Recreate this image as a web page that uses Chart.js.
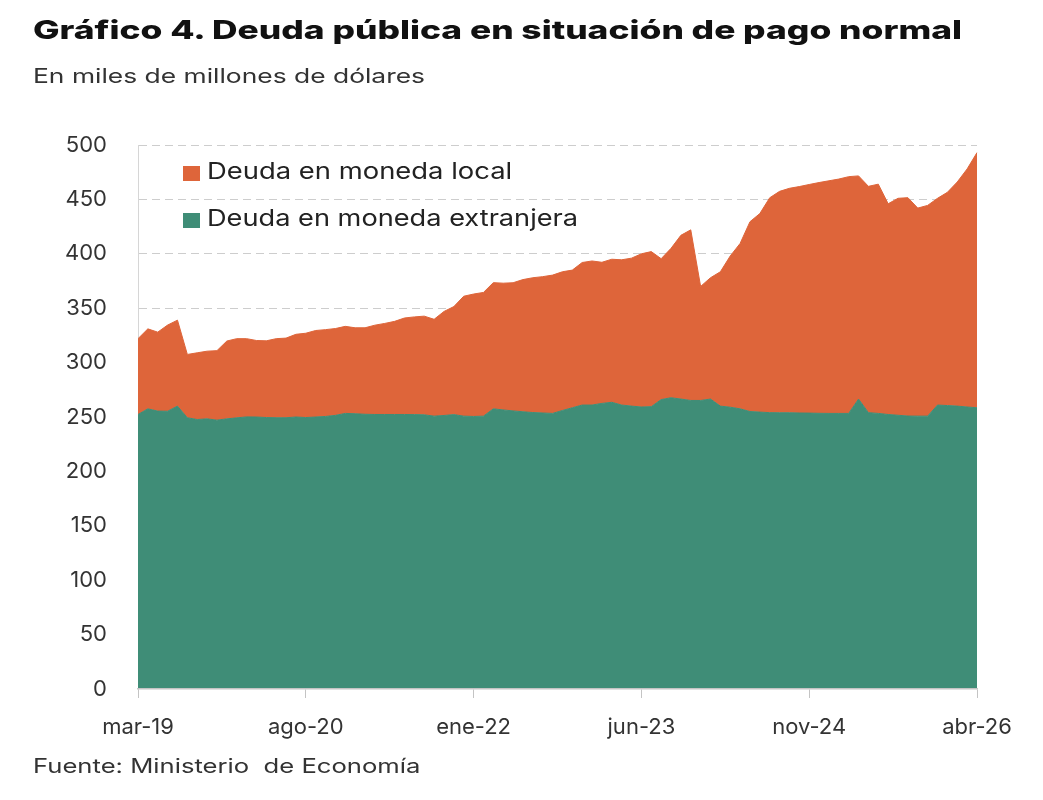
<!DOCTYPE html>
<html>
<head>
<meta charset="utf-8">
<script src="https://cdn.jsdelivr.net/npm/chart.js@4.4.1/dist/chart.umd.min.js"></script>
<style>
  html, body { margin:0; padding:0; background:#fff; }
  body { width:1043px; height:800px; position:relative; overflow:hidden; font-family:'Inter', 'Noto Sans', sans-serif; }
  .t { position:absolute; white-space:pre; line-height:1; transform-origin:0 0; }
  #title { left:33px; top:16.5px; font-size:26px; font-weight:800; color:#111; }
  #subtitle { left:33px; top:66px; font-size:20px; color:#333; }
  #source { left:33px; top:756px; font-size:20px; color:#333; }
  .lg { position:absolute; left:183px; }
  .lg .sw { position:absolute; left:0; width:17px; height:15px; }
  .lg .tx { position:absolute; left:24px; white-space:pre; line-height:1; font-size:23px; color:#222; transform-origin:0 0; }
  #c { position:absolute; left:0; top:0; }
</style>
</head>
<body>
<canvas id="c" width="1043" height="800"></canvas>
<div id="title" class="t" data-w="929">Gráfico 4. Deuda pública en situación de pago normal</div>
<div id="subtitle" class="t" data-w="392">En miles de millones de dólares</div>
<div id="source" class="t" data-w="387">Fuente: Ministerio  de Economía</div>
<div id="legend"></div>
<script>
// ---- Data ----
const MONTHS = ['ene','feb','mar','abr','may','jun','jul','ago','sep','oct','nov','dic'];
const START_MONTH = 2;   // mar
const START_YEAR = 19;   // 2019
const N_POINTS = 86;     // mar-19 .. abr-26

const labels = [];
for (let i = 0; i < N_POINTS; i++) {
  const m = (START_MONTH + i) % 12;
  const y = START_YEAR + Math.floor((START_MONTH + i) / 12);
  labels.push(MONTHS[m] + '-' + y);
}

const foreignDebt = [252.3,257.5,255.4,255.3,260,249.3,247.7,248.3,247.1,248.3,249.2,250.1,250,249.5,249.3,249.3,250,249.5,250,250.5,251.5,253.3,253,252.5,252.3,252.3,252.3,252.3,252.2,252,250.8,251.4,252.2,250.8,250.5,250.8,257.5,256.5,255.6,254.8,254.1,253.7,253.3,256,258.5,261,261,262.5,263.5,261,260,259.2,259.5,266,267.7,266.5,265.2,265.2,266.5,260,259,257.5,255,254.5,254,253.9,253.9,253.7,253.6,253.4,253.3,253.3,253.3,266.5,254,253.3,252.3,251.6,250.9,250.8,250.8,261,260.5,260,259.2,258.5];

const localDebt = [69.7,73.5,72.6,79.2,79,58.2,61.3,62.2,63.9,71.5,72.8,71.9,70.3,70.5,72.7,73.2,76,77.5,79.5,79.8,79.8,80,79,79.5,82.1,83.7,85.6,88.7,89.8,90.7,89,95.6,99.3,110.2,112.5,113.7,116,116.5,117.8,121.5,123.9,125.3,127.1,127.5,126.5,131,132.4,129.7,131.5,133.5,136,140.8,142.5,129.5,137.3,150.5,156.8,104.8,111.5,123.5,139,152,174.5,182.5,197.5,203.5,206.3,208.1,210.1,212.1,213.8,215.4,217.6,205.1,208,210.7,193.7,199.4,200.7,191.2,193.7,190,196,206,218.8,234.5];

const seriesNames = ['Deuda en moneda extranjera', 'Deuda en moneda local'];
const yTicks = [0,50,100,150,200,250,300,350,400,450,500];
const X_TICK_EVERY = 17;

// ---- Styles ----
const GREEN = '#3F8D77';
const ORANGE = '#DE653A';
const FONT = "'Inter', 'Noto Sans', sans-serif";

const chart = new Chart(document.getElementById('c'), {
  type: 'line',
  data: {
    labels: labels,
    datasets: [
      { label: seriesNames[0], data: foreignDebt, backgroundColor: GREEN, borderColor: GREEN,
        borderWidth: 1, fill: 'origin', pointRadius: 0, tension: 0 },
      { label: seriesNames[1], data: localDebt, backgroundColor: ORANGE, borderColor: ORANGE,
        borderWidth: 1, fill: '-1', pointRadius: 0, tension: 0 }
    ]
  },
  options: {
    responsive: false,
    animation: false,
    layout: { padding: { left: 0, top: 145, right: 66, bottom: 61 } },
    plugins: { legend: { display: false }, tooltip: { enabled: false } },
    scales: {
      x: {
        offset: false,
        afterFit: s => { s.height = 50; },
        grid: {
          display: true, drawOnChartArea: false, drawTicks: true, tickLength: 9,
          tickColor: c => (c.index % X_TICK_EVERY === 0 ? '#c4c4c4' : 'rgba(0,0,0,0)'),
          color: 'rgba(0,0,0,0)'
        },
        border: { display: true, color: '#c4c4c4', width: 1.5, z: 1 },
        ticks: {
          autoSkip: false, maxRotation: 0, minRotation: 0, padding: 16,
          color: '#333', font: { family: FONT, size: 22 },
          callback: (v, i) => (i % X_TICK_EVERY === 0 ? labels[i] : '')
        }
      },
      y: {
        stacked: true,
        min: yTicks[0], max: yTicks[yTicks.length - 1],
        afterFit: s => { s.width = 138; },
        afterBuildTicks: s => { s.ticks = yTicks.map(v => ({ value: v })); },
        grid: { color: c => (c.tick && c.tick.value === 0 ? 'rgba(0,0,0,0)' : '#cdcdcd'), lineWidth: 1, drawTicks: false },
        border: { display: true, color: '#d6d6d6', width: 1, dash: [8, 5] },
        ticks: { padding: 31, color: '#333', font: { family: FONT, size: 22 } }
      }
    }
  }
});

// ---- HTML legend (inside plot, top-left), built from dataset definitions ----
const legendBox = document.getElementById('legend');
const order = [1, 0];
order.forEach((di, k) => {
  const ds = chart.data.datasets[di];
  const item = document.createElement('div');
  item.className = 'lg';
  item.style.top = (166 + k * 46.5) + 'px';
  const sw = document.createElement('div');
  sw.className = 'sw';
  sw.style.background = ds.backgroundColor;
  const tx = document.createElement('div');
  tx.className = 'tx';
  tx.style.top = '-6px';
  tx.textContent = ds.label;
  tx.setAttribute('data-w', di === 1 ? '305' : '371');
  item.appendChild(sw); item.appendChild(tx);
  legendBox.appendChild(item);
});

// ---- Fit text widths to the reference (offsetWidth ignores transforms) ----
function fitText() {
  document.querySelectorAll('[data-w]').forEach(el => {
    const w = el.offsetWidth;
    const target = parseFloat(el.getAttribute('data-w'));
    if (w > 0) el.style.transform = 'scaleX(' + (target / w).toFixed(4) + ')';
  });
}
fitText();
if (document.fonts && document.fonts.ready) { document.fonts.ready.then(() => fitText()); }
</script>
</body>
</html>
